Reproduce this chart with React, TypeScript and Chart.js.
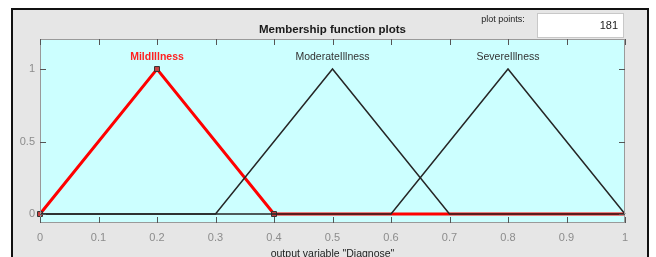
import React, { useEffect, useRef } from "react";
import { Chart, registerables } from "chart.js";

Chart.register(...registerables);

const MF_NAMES = ["MildIllness", "ModerateIllness", "SevereIllness"];
const MF_PEAKS = [0.2, 0.5, 0.8];
const MILD = [
  { x: 0, y: 0 },
  { x: 0.2, y: 1 },
  { x: 0.4, y: 0 },
  { x: 1, y: 0 },
];
const MODERATE = [
  { x: 0, y: 0 },
  { x: 0.3, y: 0 },
  { x: 0.5, y: 1 },
  { x: 0.7, y: 0 },
  { x: 1, y: 0 },
];
const SEVERE = [
  { x: 0, y: 0 },
  { x: 0.6, y: 0 },
  { x: 0.8, y: 1 },
  { x: 1, y: 0 },
];
const X_TICKS = [0, 0.1, 0.2, 0.3, 0.4, 0.5, 0.6, 0.7, 0.8, 0.9, 1];
const Y_TICKS = [0, 0.5, 1];
const TITLE = "Membership function plots";
const X_TITLE = 'output variable "Diagnose"';
const PLOT_POINTS_LABEL = "plot points:";
const PLOT_POINTS_VALUE = "181";

const FONT = "'Liberation Sans', Arial, sans-serif";

const framePlugin = {
  id: "matlabFrame",
  beforeDraw(chart: any) {
    const { ctx, chartArea } = chart;
    const W = chart.width;
    const H = chart.height;
    ctx.save();
    ctx.fillStyle = "#ffffff";
    ctx.fillRect(0, 0, W, H);
    ctx.fillStyle = "#e6e6e6";
    ctx.fillRect(12, 9, 636, H);
    ctx.strokeStyle = "#111111";
    ctx.lineWidth = 2;
    ctx.strokeRect(12, 9, 636, H + 10);
    ctx.fillStyle = "#ffffff";
    ctx.fillRect(537, 13, 86, 24);
    ctx.strokeStyle = "#c8c8c8";
    ctx.lineWidth = 1;
    ctx.strokeRect(537.5, 13.5, 86, 24);
    ctx.fillStyle = "#222222";
    ctx.font = `11px ${FONT}`;
    ctx.textAlign = "right";
    ctx.textBaseline = "middle";
    ctx.fillText(PLOT_POINTS_VALUE, 618, 26);
    ctx.font = `9px ${FONT}`;
    ctx.textAlign = "center";
    ctx.fillText(PLOT_POINTS_LABEL, 503, 20);
    ctx.font = `bold 11.5px ${FONT}`;
    ctx.fillStyle = "#1a1a1a";
    ctx.fillText(TITLE, (chartArea.left + chartArea.right) / 2, 30);
    ctx.font = `10.5px ${FONT}`;
    ctx.fillStyle = "#222222";
    ctx.fillText(X_TITLE, (chartArea.left + chartArea.right) / 2, 254);
    ctx.fillStyle = "#ccffff";
    ctx.fillRect(chartArea.left, chartArea.top, chartArea.right - chartArea.left, chartArea.bottom - chartArea.top);
    ctx.restore();
  },
  afterDatasetsDraw(chart: any) {
    const { ctx, chartArea, scales } = chart;
    const xs = scales.x;
    const ys = scales.y;
    ctx.save();
    ctx.strokeStyle = "#9a9a9a";
    ctx.lineWidth = 1;
    ctx.strokeRect(chartArea.left + 0.5, chartArea.top + 0.5, chartArea.right - chartArea.left - 1, chartArea.bottom - chartArea.top - 1);
    ctx.strokeStyle = "#555555";
    ctx.beginPath();
    const tl = 6;
    xs.ticks.forEach((t: any) => {
      const px = Math.round(xs.getPixelForValue(t.value)) + 0.5;
      ctx.moveTo(px, chartArea.bottom);
      ctx.lineTo(px, chartArea.bottom - tl);
      ctx.moveTo(px, chartArea.top);
      ctx.lineTo(px, chartArea.top + tl);
    });
    ys.ticks.forEach((t: any) => {
      const py = Math.round(ys.getPixelForValue(t.value)) + 0.5;
      ctx.moveTo(chartArea.left, py);
      ctx.lineTo(chartArea.left + tl, py);
      ctx.moveTo(chartArea.right, py);
      ctx.lineTo(chartArea.right - tl, py);
    });
    ctx.stroke();
    ctx.textAlign = "center";
    ctx.textBaseline = "middle";
    MF_NAMES.forEach((name, i) => {
      const px = xs.getPixelForValue(MF_PEAKS[i]);
      const py = ys.getPixelForValue(1.08);
      if (i === 0) {
        ctx.font = `bold 10.5px ${FONT}`;
        ctx.fillStyle = "#ff2020";
      } else {
        ctx.font = `10.5px ${FONT}`;
        ctx.fillStyle = "#333333";
      }
      ctx.fillText(name, px, py);
    });
    ctx.restore();
  },
};

export default function App() {
  const ref = useRef<HTMLCanvasElement | null>(null);
  useEffect(() => {
    document.body.style.margin = "0";
    if (!ref.current) return;
    const chart = new Chart(ref.current, {
      type: "line",
      data: {
        datasets: [
          {
            label: MF_NAMES[1],
            data: MODERATE,
            borderColor: "#262626",
            borderWidth: 1.5,
            pointRadius: 0,
            order: 1,
            clip: false as any,
          },
          {
            label: MF_NAMES[2],
            data: SEVERE,
            borderColor: "#262626",
            borderWidth: 1.5,
            pointRadius: 0,
            order: 1,
            clip: false as any,
          },
          {
            label: MF_NAMES[0],
            data: MILD,
            borderColor: "#ff0000",
            borderWidth: 3,
            pointStyle: "rect",
            pointRadius: (c: any) => (c.dataIndex < 3 ? 3.5 : 0),
            pointBorderColor: "#333333",
            pointBorderWidth: 1,
            pointBackgroundColor: "#cc4040",
            order: 2,
            clip: false as any,
          },
        ],
      },
      options: {
        animation: false,
        responsive: false,
        maintainAspectRatio: false,
        layout: { padding: { left: 0, top: 39, right: 31, bottom: 0 } },
        plugins: { legend: { display: false }, tooltip: { enabled: false }, title: { display: false } },
        scales: {
          x: {
            type: "linear",
            min: 0,
            max: 1,
            afterBuildTicks: (s: any) => {
              s.ticks = X_TICKS.map((v) => ({ value: v }));
            },
            afterFit: (s: any) => {
              s.height = 34;
            },
            grid: { display: false, drawTicks: false },
            border: { display: false },
            ticks: {
              color: "#8c8c8c",
              font: { family: FONT, size: 11 },
              padding: 8,
              maxRotation: 0,
              autoSkip: false,
              callback: (v: any) => String(Math.round(Number(v) * 10) / 10),
            },
          },
          y: {
            type: "linear",
            min: -0.062,
            max: 1.207,
            afterBuildTicks: (s: any) => {
              s.ticks = Y_TICKS.map((v) => ({ value: v }));
            },
            afterFit: (s: any) => {
              s.width = 40;
            },
            grid: { display: false, drawTicks: false },
            border: { display: false },
            ticks: {
              color: "#8c8c8c",
              font: { family: FONT, size: 11 },
              padding: 5,
              callback: (v: any) => String(v),
            },
          },
        },
      },
      plugins: [framePlugin],
    });
    return () => chart.destroy();
  }, []);
  return (
    <div style={{ position: "absolute", left: 0, top: 0, width: 656, height: 257 }}>
      <canvas ref={ref} width={656} height={257} style={{ width: 656, height: 257, display: "block" }} />
    </div>
  );
}
